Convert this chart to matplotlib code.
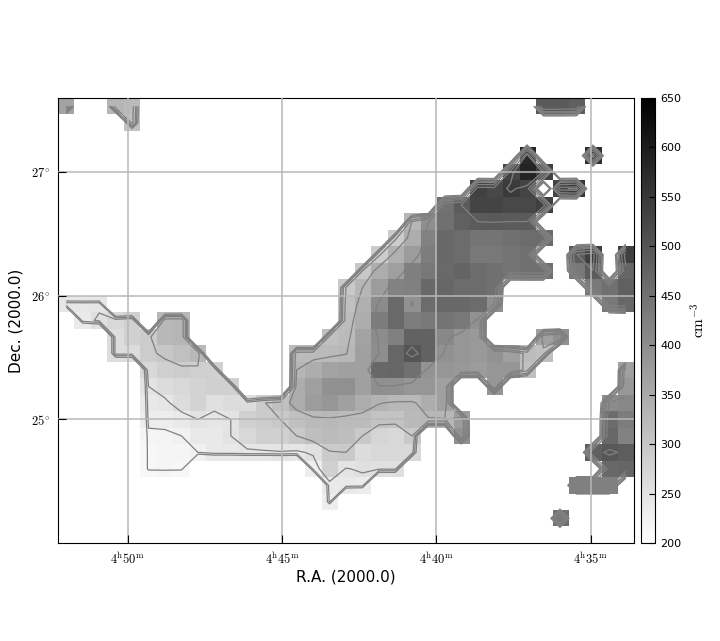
import numpy as np
import matplotlib
matplotlib.use('Agg')
import matplotlib.pyplot as plt

# density map: 8 arcmin cells, row 0 is the northern edge. (first column, values) per row
n_rows, n_cols = 27, 35
map_rows = {
    0: [(0, [360]), (3, [330, 320]), (29, [490, 490, 480])],
    1: [(4, [310])],
    3: [(28, [579]), (32, [565])],
    4: [(27, [530, 585, 537])],
    5: [(25, [537, 523, 545, 530]), (30, [530, 550])],
    6: [(23, [450, 490, 530, 530, 523, 523, 537])],
    7: [(21, [330, 398, 452, 480, 490, 492, 490, 490])],
    8: [(20, [290, 345, 420, 466, 459, 445, 445, 452, 459, 459])],
    9: [(19, [290, 340, 375, 430, 466, 459, 438, 438, 445, 452]), (31, [488, 538]), (34, [537])],
    10: [(18, [297, 345, 370, 425, 438, 463, 473, 459, 452, 445, 452, 452]), (31, [438, 488]), (34, [470])],
    11: [(17, [295, 330, 375, 420, 424, 466, 470, 459, 459, 452]), (32, [434, 452, 480])],
    12: [(0, [245, 243, 244]), (17, [311, 339, 405, 463, 395, 459, 466, 466, 459, 398]), (33, [438, 466])],
    13: [(1, [238, 255, 269, 283]), (6, [325, 329]), (17, [318, 345, 431, 463, 430, 438, 445, 438, 395])],
    14: [(3, [260, 283, 290, 325, 329]), (16, [311, 320, 360, 403, 424, 475, 475, 410, 385, 380]), (29, [368, 396])],
    15: [(3, [260, 262, 290, 300, 311, 325]), (14, [320, 320, 322, 328, 368, 400, 470, 500, 475, 395, 385, 380, 392, 368, 318, 311])],
    16: [(5, [269, 285, 290, 285, 283]), (14, [330, 345, 360, 368, 368, 466, 470, 452, 390, 385, 382, 375, 385, 385, 311]), (34, [368])],
    17: [(5, [250, 262, 269, 276, 283, 283]), (14, [345, 368, 395, 396, 368, 398, 396, 385, 385, 368]), (26, [385]), (34, [382])],
    18: [(5, [240, 245, 262, 276, 255, 262, 262, 293, 311, 345, 375, 385, 368, 345, 332, 325, 325, 345, 368]), (33, [405, 410])],
    19: [(5, [233, 233, 240, 250, 245, 250, 283, 290, 295, 311, 322, 325, 320, 320, 305, 305, 322, 328, 328, 375]), (33, [459, 431])],
    20: [(5, [218, 220, 225, 240, 240, 250, 269, 285, 283, 295, 315, 320, 315, 295, 275, 270, 295]), (24, [396]), (33, [466, 420])],
    21: [(5, [215, 219, 219, 225, 240, 240, 245, 245, 248, 245, 255, 293, 295, 262, 269, 269, 269]), (32, [480, 495, 485])],
    22: [(5, [215, 219, 215]), (15, [230, 283, 248, 255, 255, 255]), (33, [466, 470])],
    23: [(16, [240, 240, 235]), (31, [424, 424, 424])],
    24: [(16, [230])],
    25: [(30, [452])],
}

contour_levels = [200, 225, 250, 295, 330, 400, 490, 540]
ra_ticks = [50, 45, 40, 35]
ra_labels = [r'$4^{\mathrm{h}}%d^{\mathrm{m}}$' % m for m in ra_ticks]
dec_ticks = [25, 26, 27]
dec_labels = [r'$%d^{\circ}$' % d for d in dec_ticks]
cbar_ticks = [200, 250, 300, 350, 400, 450, 500, 550, 600, 650]

density = np.zeros((n_rows, n_cols))
for r, runs in map_rows.items():
    for start, vals in runs:
        density[r, start:start + len(vals)] = vals

# grid in RA minutes / Dec degrees
cell_ra = 8.0 / 15.0
cell_dec = 8.0 / 60.0
ra_left = 52.26
dec_top = 27.6
ra_edges = ra_left - cell_ra * np.arange(n_cols + 1)
dec_edges = dec_top - cell_dec * np.arange(n_rows + 1)
ra_centers = 0.5 * (ra_edges[:-1] + ra_edges[1:])
dec_centers = 0.5 * (dec_edges[:-1] + dec_edges[1:])

plt.rcParams['mathtext.fontset'] = 'cm'

fig = plt.figure(figsize=(7.2, 6.41), dpi=100)
ax = fig.add_axes([58 / 720, 1 - 543 / 641, 576 / 720, 445 / 641])
cax = fig.add_axes([641 / 720, 1 - 543 / 641, 14 / 720, 445 / 641])

masked = np.ma.masked_where(density <= 0, density)
im = ax.imshow(masked, cmap='gray_r', vmin=200, vmax=650, interpolation='nearest', aspect='auto',
               extent=[ra_edges[0], ra_edges[-1], dec_edges[-1], dec_edges[0]], zorder=1)
ax.contour(ra_centers, dec_centers, density, levels=contour_levels, colors='#808080',
           linewidths=0.9, zorder=2)

ax.set_xlim(ra_edges[0], ra_edges[-1])
ax.set_ylim(dec_edges[-1], dec_edges[0])
ax.grid(True, color='#b8b8b8', linewidth=1.1, linestyle='-', zorder=3)
ax.set_axisbelow(False)

ax.set_xticks(ra_ticks)
ax.set_xticklabels(ra_labels, fontsize=9)
ax.set_yticks(dec_ticks)
ax.set_yticklabels(dec_labels, fontsize=9)
ax.tick_params(direction='in', length=6, width=0.8, top=False, right=False, pad=6)
ax.set_xlabel('R.A. (2000.0)', fontsize=11, labelpad=2)
ax.set_ylabel('Dec. (2000.0)', fontsize=11, labelpad=5)

cb = fig.colorbar(im, cax=cax)
cb.set_ticks(cbar_ticks)
cb.ax.tick_params(direction='in', length=4, width=0.8, labelsize=8, pad=4)
cb.set_label(r'$\mathrm{cm}^{-3}$', fontsize=11, labelpad=6)

fig.savefig('out.png', dpi=100)
